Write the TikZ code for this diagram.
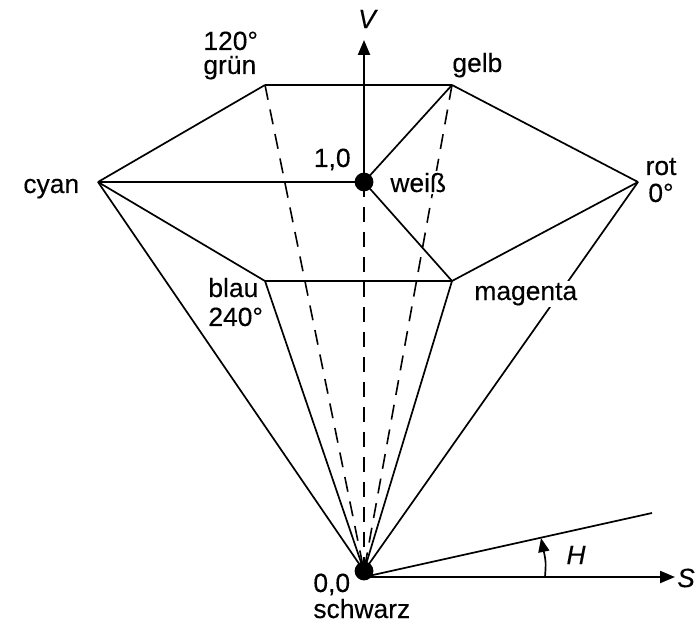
\documentclass[tikz,border=0pt]{standalone}
\usepackage{fontspec}
\setmainfont{Liberation Sans}
\usetikzlibrary{arrows.meta,positioning}

\begin{document}
\begin{tikzpicture}[
  x=0.5pt, y=-0.5pt,
  edge/.style={line width=0.85pt, black},
  hidden/.style={line width=0.8pt, black, dash pattern=on 7.5pt off 5pt},
  axis/.style={line width=1.1pt, -{Triangle[length=7.5pt, width=6pt]}},
  dot/.style={circle, fill=black, inner sep=0pt, minimum size=9.4pt},
  lab/.style={font=\fontsize{13.2}{14}\selectfont\addfontfeature{FakeBold=0.25}, align=left, inner sep=0pt},
  hidelab/.style={lab, fill=white, inner sep=1pt},
  var/.style={lab, font=\fontsize{13.2}{14}\selectfont\itshape\addfontfeature{FakeBold=0.25}}
]
\useasboundingbox (0,0) rectangle (699,624);

\coordinate (cyan) at (98,182);
\coordinate (rot) at (638,182);
\coordinate (gruen) at (265,85);
\coordinate (gelb) at (452,85);
\coordinate (blau) at (265,281);
\coordinate (magenta) at (452,281);
\coordinate (weiss) at (364,182);
\coordinate (schwarz) at (364,571);
\coordinate (vtop) at (364,40);
\coordinate (stip) at (675,577);
\coordinate (origin) at (364,577);
\coordinate (hend) at (652,513);
\coordinate (hfoot) at (545,577);
\coordinate (htip) at (541,538);

% dashed back edges
\foreach \a in {gruen, gelb, weiss}
  \draw[hidden] (\a) -- (schwarz);

% hexagon and spokes
\foreach \a/\b in {cyan/gruen, gruen/gelb, gelb/rot, rot/magenta, magenta/blau, blau/cyan,
                   cyan/weiss, weiss/gelb, weiss/magenta, blau/schwarz, magenta/schwarz,
                   cyan/schwarz, rot/schwarz, origin/hend}
  \draw[edge] (\a) -- (\b);

\draw[axis] (weiss) -- (vtop);
\draw[axis] (origin) -- (stip);
\draw[-{Triangle[length=7pt, width=5.5pt]}, edge] (hfoot) .. controls (546,562) .. (htip);

\node[dot] (dweiss) at (weiss) {};
\node[dot] (dschwarz) at (schwarz) {};

% labels, two of them break the lines
\node[hidelab, anchor=base west] (lweiss) at (388,192) {weiß};
\node[hidelab, anchor=base west] (lmagenta) at (472,300) {magenta};
\node[lab, anchor=base west] (lgruen) at (203,74) {120°\\[-2pt]grün};
\node[lab, anchor=base west] (lcyan) at (23,193) {cyan};
\node[lab, anchor=base west] (lgelb) at (452,72) {gelb};
\node[lab, anchor=base east] (leins) at (351,167) {1,0};
\node[lab, anchor=base west] (lblau) at (208,326) {blau\\[0.5pt]240°};
\node[lab, anchor=base, align=center] (lrot) at (661,202) {rot\\[-0.5pt]0°};
\node[lab, anchor=base west] (lschwarz) at (313,618) {0,0\\[-1pt]schwarz};
\node[var] (lv) at (367,19) {V};
\node[var] (lh) at (576,555) {H};
\node[var] (ls) at (686,578) {S};
\end{tikzpicture}
\end{document}
